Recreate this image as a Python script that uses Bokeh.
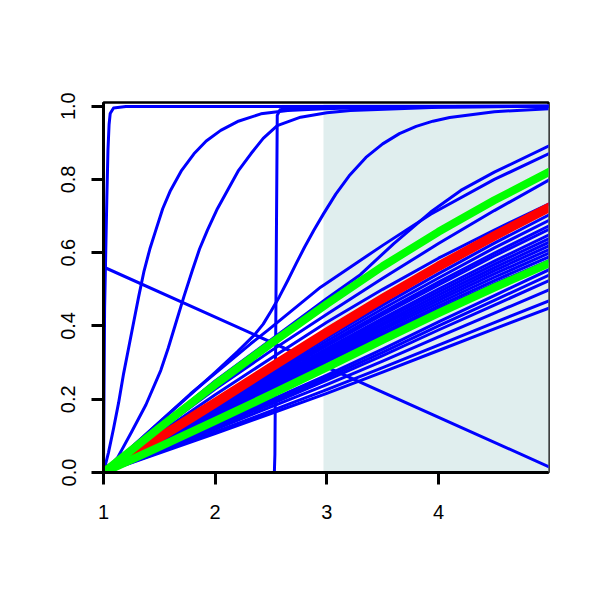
from bokeh.plotting import figure
from bokeh.models import FixedTicker, PrintfTickFormatter, Range1d, ColumnDataSource
from bokeh.embed import file_html
from bokeh.resources import INLINE

# ---------------- data ----------------
x_ticks = [1, 2, 3, 4]
y_ticks = [0.0, 0.2, 0.4, 0.6, 0.8, 1.0]

# shaded interval
shade_x = [2.97, 5.0]
shade_y = [0.0, 1.005]

# common x grid
grid9 = [1, 1.5, 2, 2.5, 3, 3.5, 4, 4.5, 5]

# reference (red) and band (green) curves
red_y = [0, 0.095, 0.19, 0.287, 0.383, 0.475, 0.563, 0.646, 0.725]
green_hi_y = [0, 0.122, 0.24, 0.352, 0.46, 0.563, 0.657, 0.743, 0.822]
green_lo_y = [0, 0.07, 0.141, 0.213, 0.287, 0.362, 0.435, 0.505, 0.572]

# blue bundle lines on grid9
bundle_y = [
    [0, 0.116, 0.228, 0.332, 0.432, 0.530, 0.625, 0.715, 0.800],
    [0, 0.107, 0.212, 0.312, 0.410, 0.500, 0.585, 0.662, 0.735],
    [0, 0.090, 0.181, 0.274, 0.367, 0.457, 0.543, 0.626, 0.705],
    [0, 0.088, 0.177, 0.268, 0.359, 0.447, 0.531, 0.613, 0.690],
    [0, 0.086, 0.173, 0.263, 0.351, 0.437, 0.520, 0.599, 0.675],
    [0, 0.085, 0.171, 0.259, 0.346, 0.431, 0.512, 0.591, 0.665],
    [0, 0.083, 0.167, 0.253, 0.338, 0.421, 0.501, 0.577, 0.650],
    [0, 0.082, 0.164, 0.249, 0.333, 0.415, 0.493, 0.568, 0.640],
    [0, 0.081, 0.162, 0.245, 0.328, 0.408, 0.485, 0.559, 0.630],
    [0, 0.079, 0.159, 0.241, 0.322, 0.402, 0.477, 0.551, 0.620],
    [0, 0.078, 0.157, 0.237, 0.317, 0.395, 0.470, 0.542, 0.610],
    [0, 0.077, 0.154, 0.233, 0.312, 0.389, 0.462, 0.533, 0.600],
    [0, 0.076, 0.152, 0.230, 0.307, 0.382, 0.454, 0.524, 0.590],
    [0, 0.074, 0.149, 0.226, 0.302, 0.376, 0.447, 0.515, 0.580],
    [0, 0.065, 0.131, 0.198, 0.266, 0.337, 0.411, 0.483, 0.555],
    [0, 0.064, 0.127, 0.193, 0.259, 0.328, 0.400, 0.470, 0.540],
    [0, 0.062, 0.124, 0.187, 0.252, 0.319, 0.389, 0.457, 0.525],
    [0, 0.059, 0.118, 0.179, 0.240, 0.304, 0.370, 0.435, 0.500],
    [0, 0.055, 0.111, 0.168, 0.226, 0.286, 0.348, 0.409, 0.470],
    [0, 0.053, 0.106, 0.161, 0.216, 0.274, 0.333, 0.392, 0.450],
]

# decreasing line
dec_x = [1, 5]
dec_y = [0.561, 0.014]

# irregular curves
l1_x = [1, 1.78, 2.32, 2.47, 2.944, 3.5, 3.93, 4.5, 5]
l1_y = [0, 0.215, 0.352, 0.388, 0.506, 0.62, 0.705, 0.80, 0.872]

b_x = [1, 2, 3, 3.3, 3.6, 3.93, 4.2, 4.5, 5]
b_y = [0, 0.25, 0.475, 0.54, 0.625, 0.711, 0.77, 0.82, 0.893]

c1_x = [1, 1.004, 1.01, 1.02, 1.03, 1.04, 1.05, 1.06, 1.09, 1.2, 5]
c1_y = [0, 0.2, 0.45, 0.6, 0.75, 0.88, 0.95, 0.98, 0.995, 0.999, 1.0]

c2_x = [1, 1.045, 1.09, 1.135, 1.18, 1.225, 1.27, 1.315, 1.363, 1.415, 1.468,
        1.53, 1.6, 1.7, 1.81, 1.92, 2.05, 2.2, 2.41, 2.65, 2.97, 3.5, 5]
c2_y = [0, 0.055, 0.12, 0.19, 0.27, 0.34, 0.41, 0.48, 0.55, 0.61, 0.661,
        0.72, 0.77, 0.825, 0.87, 0.905, 0.934, 0.958, 0.979, 0.988, 0.993, 0.997, 1.0]

c3_x = [1, 1.125, 1.25, 1.38, 1.513, 1.58, 1.65, 1.72, 1.796, 1.86, 1.93, 2.02,
        2.11, 2.21, 2.32, 2.43, 2.556, 2.765, 3.0, 3.21, 4, 5]
c3_y = [0, 0.04, 0.11, 0.185, 0.279, 0.34, 0.41, 0.48, 0.552, 0.61, 0.661, 0.72,
        0.77, 0.825, 0.87, 0.912, 0.947, 0.97, 0.982, 0.988, 0.997, 1.0]

c4_x = [1, 2, 2.2, 2.35, 2.43, 2.5, 2.575, 2.65, 2.725, 2.8, 2.885, 2.97, 3.08,
        3.2, 3.35, 3.5, 3.65, 3.8, 3.95, 4.1, 4.5, 5]
c4_y = [0, 0.273, 0.33, 0.375, 0.405, 0.44, 0.48, 0.524, 0.57, 0.615, 0.662, 0.706, 0.76,
        0.81, 0.86, 0.897, 0.925, 0.945, 0.959, 0.969, 0.985, 0.993]

step_x = [1, 2.53, 2.535, 2.545, 2.556, 2.58, 2.7, 3.0, 5.0]
step_y = [0, 0, 0.05, 0.5, 0.975, 0.99, 0.995, 0.998, 1.0]

# ---------------- figure ----------------
p = figure(width=584, height=584,
           x_range=Range1d(1, 4.985), y_range=Range1d(0, 1.01),
           output_backend="svg", toolbar_location=None,
           min_border_left=103, min_border_right=36,
           min_border_top=102, min_border_bottom=112)
p.grid.visible = False
p.background_fill_color = "white"
p.border_fill_color = "white"
p.outline_line_color = "black"
p.outline_line_width = 2.5

p.quad(left=[shade_x[0]], right=[shade_x[1]], bottom=[shade_y[0]], top=[shade_y[1]],
       fill_color="#E0EEEE", line_color=None)

blue_xs = [grid9] * len(bundle_y) + [dec_x, l1_x, b_x, c1_x, c2_x, c3_x, c4_x, step_x]
blue_ys = list(bundle_y) + [dec_y, l1_y, b_y, c1_y, c2_y, c3_y, c4_y, step_y]
src = ColumnDataSource(dict(xs=blue_xs, ys=blue_ys))
p.multi_line(xs="xs", ys="ys", source=src, line_color="#0000FF", line_width=3,
             line_join="round", line_cap="round")

p.line(grid9, red_y, line_color="#FF0000", line_width=9.5, line_join="round", line_cap="round")
p.line(grid9, green_hi_y, line_color="#00FF00", line_width=8, line_join="round", line_cap="round")
p.line(grid9, green_lo_y, line_color="#00FF00", line_width=8, line_join="round", line_cap="round")

for ax in (p.xaxis[0], p.yaxis[0]):
    ax.axis_line_width = 3
    ax.axis_line_color = "black"
    ax.major_tick_line_width = 3
    ax.major_tick_line_color = "black"
    ax.major_tick_out = 12
    ax.major_tick_in = 0
    ax.minor_tick_line_color = None
    ax.major_label_text_font = "Liberation Sans"
    ax.major_label_text_font_size = "20px"
    ax.major_label_text_color = "black"

p.xaxis.ticker = FixedTicker(ticks=x_ticks)
p.yaxis.ticker = FixedTicker(ticks=y_ticks)
p.yaxis.formatter = PrintfTickFormatter(format="%.1f")
p.yaxis.major_label_orientation = "vertical"
p.xaxis.major_label_standoff = 20
p.yaxis.major_label_standoff = 16

open("out.html", "w").write(file_html(p, INLINE))
